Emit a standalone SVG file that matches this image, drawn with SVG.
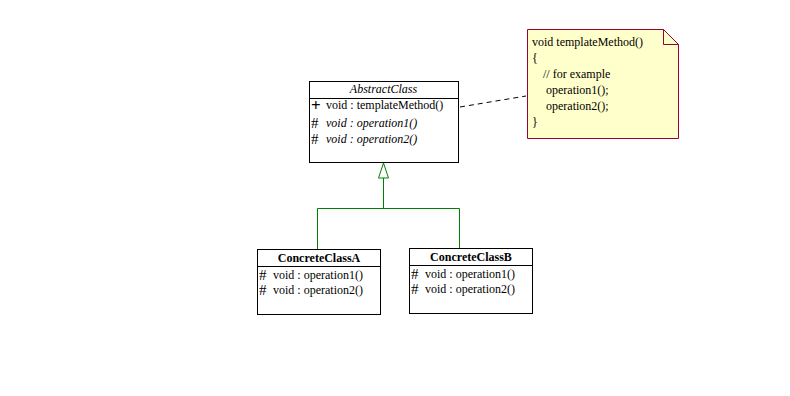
<svg xmlns="http://www.w3.org/2000/svg" width="790" height="396" viewBox="0 0 790 396">
<style>
text{font-family:"Liberation Serif","Times New Roman",serif;font-size:12px;fill:#000}
.box{fill:#fff;stroke:#000;stroke-width:1}
.it{font-style:italic}
.b{font-weight:bold}
.h{font-size:15px}
.plus{font-size:17px;font-weight:bold}
.gen{fill:none;stroke:#008000;stroke-width:1}
</style>
<rect width="790" height="396" fill="#fff"/>
<g id="connectors">
<path class="gen" d="M317.5 249V208.5H459.5V248M383.5 208.5V178"/>
<path d="M383.5 163L378.5 178H388.5Z" fill="#fff" stroke="#008000"/>
<path d="M460 107L526 96" stroke="#000" stroke-dasharray="5,4" fill="none"/>
</g>
<g id="AbstractClass">
<rect class="box" x="309.5" y="81.5" width="149" height="81"/>
<line x1="309.5" y1="98.5" x2="458.5" y2="98.5" stroke="#000"/>
<text class="it" x="383.5" y="93" text-anchor="middle">AbstractClass</text>
<text class="plus" x="311" y="111">+</text>
<text x="326" y="109">void : templateMethod()</text>
<text class="h" x="311" y="128">#</text>
<text class="it" x="326" y="127">void : operation1()</text>
<text class="h" x="311" y="144">#</text>
<text class="it" x="326" y="143">void : operation2()</text>
</g>
<g id="Note">
<path d="M527.5 29.5H663.5L678.5 44.5V138.5H527.5Z" fill="#ffffcc" stroke="#990033"/>
<path d="M663.5 29.5V44.5H678.5" fill="none" stroke="#990033"/>
<text x="532" y="46">void templateMethod()</text>
<text x="532" y="62">{</text>
<text x="543" y="78">// for example</text>
<text x="546" y="94">operation1();</text>
<text x="546" y="110">operation2();</text>
<text x="532" y="126">}</text>
</g>
<g id="ConcreteClassA">
<rect class="box" x="257.5" y="249.5" width="123" height="65"/>
<line x1="257.5" y1="266.5" x2="380.5" y2="266.5" stroke="#000"/>
<text class="b" x="319" y="262" text-anchor="middle">ConcreteClassA</text>
<text class="h" x="259" y="280">#</text>
<text x="273" y="279">void : operation1()</text>
<text class="h" x="259" y="295">#</text>
<text x="273" y="294">void : operation2()</text>
</g>
<g id="ConcreteClassB">
<rect class="box" x="409.5" y="248.5" width="123" height="65"/>
<line x1="409.5" y1="265.5" x2="532.5" y2="265.5" stroke="#000"/>
<text class="b" x="471" y="261" text-anchor="middle">ConcreteClassB</text>
<text class="h" x="411" y="279">#</text>
<text x="425" y="278">void : operation1()</text>
<text class="h" x="411" y="294">#</text>
<text x="425" y="293">void : operation2()</text>
</g>
</svg>
